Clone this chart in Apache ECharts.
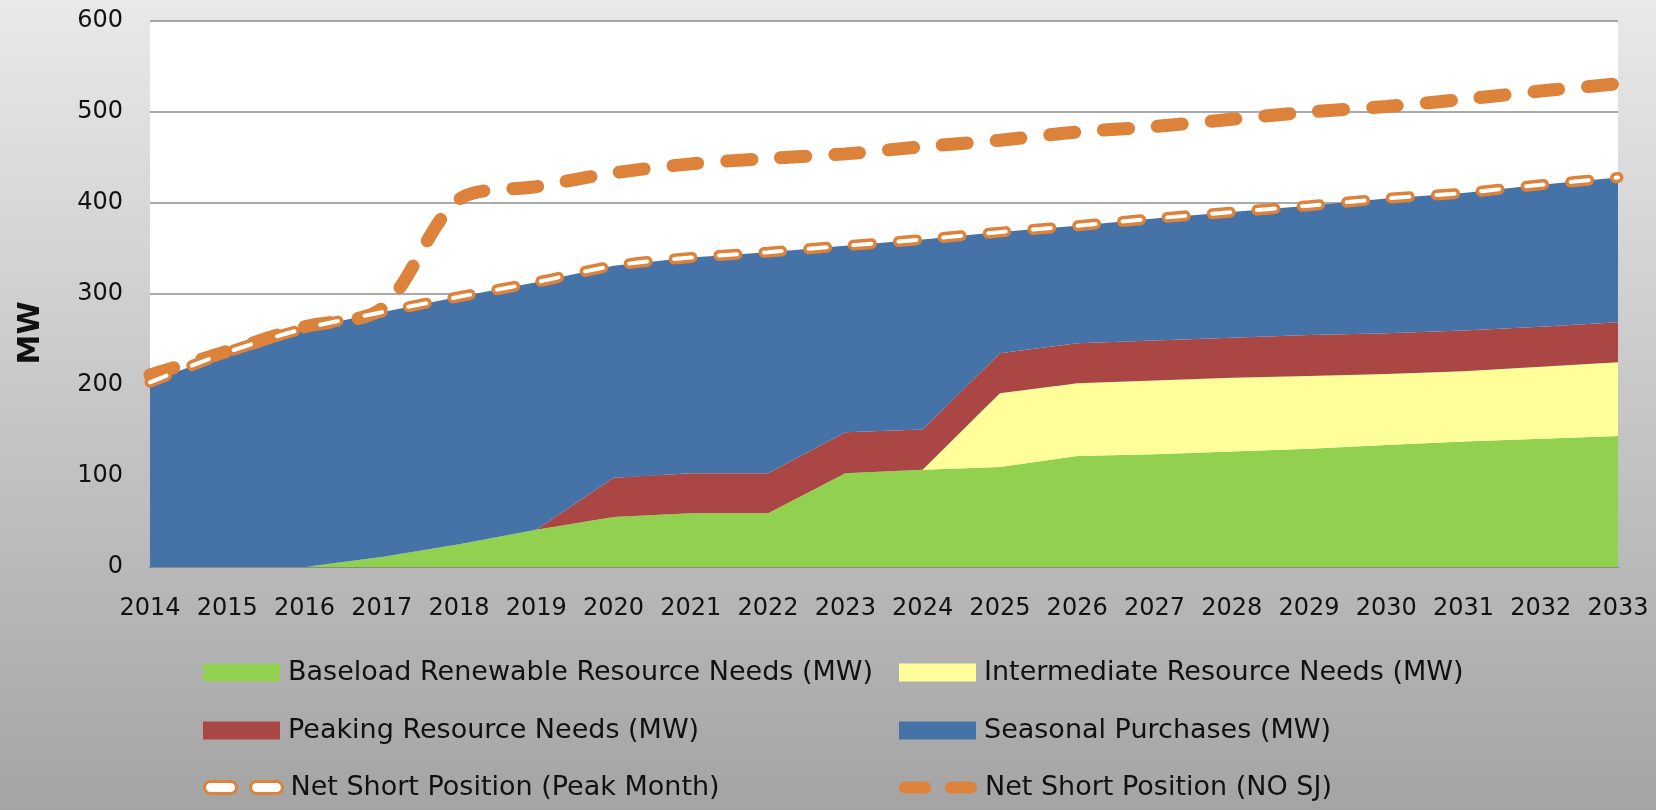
<!DOCTYPE html>
<html>
<head>
<meta charset="utf-8">
<script src="https://cdn.jsdelivr.net/npm/echarts@6/dist/echarts.min.js"></script>
<style>
  html, body { margin: 0; padding: 0; }
  #chart { width: 1656px; height: 810px; }
</style>
</head>
<body>
<div id="chart"></div>
<script>
const years = ["2014", "2015", "2016", "2017", "2018", "2019", "2020", "2021", "2022", "2023",
  "2024", "2025", "2026", "2027", "2028", "2029", "2030", "2031", "2032", "2033"];

// stacked areas (MW)
const baseload = [0, 0, 0, 11, 25, 41, 55, 59, 59, 103, 107, 110, 122, 124, 127, 130, 134, 138, 141, 144];
const intermediate = [0, 0, 0, 0, 0, 0, 0, 0, 0, 0, 0, 81, 80, 81, 81, 80, 78, 77, 79, 81];
const peaking = [0, 0, 0, 0, 0, 0, 43, 44, 44, 45, 44, 44, 44, 44, 44, 45, 45, 45, 44, 44];
const seasonal = [203, 236, 262, 269, 272, 272, 233, 237, 243, 205, 209, 133, 129, 134, 138, 142, 148, 151, 156, 159];

// net short lines (MW)
const peakMonth = [203, 236, 262, 280, 297, 313, 331, 340, 346, 353, 360, 368, 375, 383, 390, 397, 405, 411, 420, 428];
const noSJ = [211, 237, 264, 284, 404, 418, 433, 443, 449, 454, 462, 469, 478, 484, 492, 500, 506, 514, 523, 531];

const yTicks = [0, 100, 200, 300, 400, 500, 600];

const FONT = "DejaVu Sans";
const ORANGE = "#dc823a";
const names = {
  base: "Baseload Renewable Resource Needs (MW)",
  inter: "Intermediate Resource Needs (MW)",
  peak: "Peaking Resource Needs (MW)",
  seas: "Seasonal Purchases (MW)",
  pm: "Net Short Position (Peak Month)",
  nosj: "Net Short Position (NO SJ)"
};

const pills = "path://M6 0H26A6 6 0 0 1 26 12H6A6 6 0 0 1 6 0Z M52 0H72A6 6 0 0 1 72 12H52A6 6 0 0 1 52 0Z";

function areaSeries(name, data, color) {
  return {
    name: name,
    type: "line",
    stack: "needs",
    data: data,
    symbol: "none",
    lineStyle: { width: 0 },
    itemStyle: { color: color },
    areaStyle: { color: color, opacity: 1 }
  };
}

function legendBlock(left, top, data, extra) {
  return Object.assign({
    orient: "vertical",
    left: left,
    top: top,
    padding: 0,
    itemGap: 31,
    itemWidth: 77,
    itemHeight: 18,
    icon: "rect",
    selectedMode: false,
    textStyle: { fontFamily: FONT, fontSize: 27, color: "#111", padding: [0, 0, 0, 3] },
    data: data
  }, extra || {});
}

const chart = echarts.init(document.getElementById("chart"));

const option = {
  animation: false,
  backgroundColor: new echarts.graphic.LinearGradient(0, 0, 0, 1, [
    { offset: 0, color: "#e9e9e9" },
    { offset: 1, color: "#a4a4a4" }
  ]),
  grid: {
    left: 150,
    right: 38,
    top: 21,
    bottom: 243,
    show: true,
    backgroundColor: "#ffffff",
    borderWidth: 0
  },
  xAxis: {
    type: "category",
    data: years,
    boundaryGap: false,
    axisTick: { show: false },
    axisLine: { show: true, lineStyle: { color: "#8a8a8a", width: 2 } },
    axisLabel: { interval: 0, margin: 30, fontFamily: FONT, fontSize: 24, color: "#111" }
  },
  yAxis: {
    type: "value",
    min: yTicks[0],
    max: yTicks[yTicks.length - 1],
    interval: 100,
    name: "MW",
    nameLocation: "middle",
    nameGap: 104,
    nameTextStyle: { fontFamily: FONT, fontSize: 30, fontWeight: "bold", color: "#111", padding: [0, 78, 0, 0] },
    axisLine: { show: false },
    axisTick: { show: false },
    splitLine: { lineStyle: { color: "#8e8e8e", width: 1.5 } },
    axisLabel: { margin: 27, fontFamily: FONT, fontSize: 24, color: "#111" }
  },
  legend: [
    legendBlock(203, 659, [names.base, names.peak]),
    legendBlock(203, 774, [names.pm], {
      itemWidth: 78, itemHeight: 12, icon: pills,
      itemStyle: { color: "#ffffff", borderColor: ORANGE, borderWidth: 3 }
    }),
    legendBlock(899, 659, [names.inter, names.seas]),
    legendBlock(899, 774, [names.nosj], {
      itemWidth: 78, itemHeight: 12, icon: pills,
      itemStyle: { color: ORANGE }
    })
  ],
  series: [
    areaSeries(names.base, baseload, "#92d050"),
    areaSeries(names.inter, intermediate, "#ffff99"),
    areaSeries(names.peak, peaking, "#aa4643"),
    areaSeries(names.seas, seasonal, "#4572a7"),
    {
      name: names.nosj,
      type: "line",
      data: noSJ,
      symbol: "none",
      smooth: 0.3,
      z: 3,
      itemStyle: { color: ORANGE },
      lineStyle: { color: ORANGE, width: 13, type: [25, 29], cap: "round" }
    },
    {
      name: names.pm,
      type: "line",
      data: peakMonth,
      symbol: "none",
      smooth: 0.3,
      z: 4,
      itemStyle: { color: ORANGE },
      lineStyle: { color: ORANGE, width: 11, type: [18, 27], cap: "round" }
    },
    {
      // white core of the hollow dashes
      name: "pmInner",
      type: "line",
      data: peakMonth,
      symbol: "none",
      smooth: 0.3,
      z: 5,
      silent: true,
      itemStyle: { color: "#ffffff" },
      lineStyle: { color: "#ffffff", width: 4, type: [18, 27], cap: "round" }
    }
  ]
};

chart.setOption(option);
</script>
</body>
</html>
